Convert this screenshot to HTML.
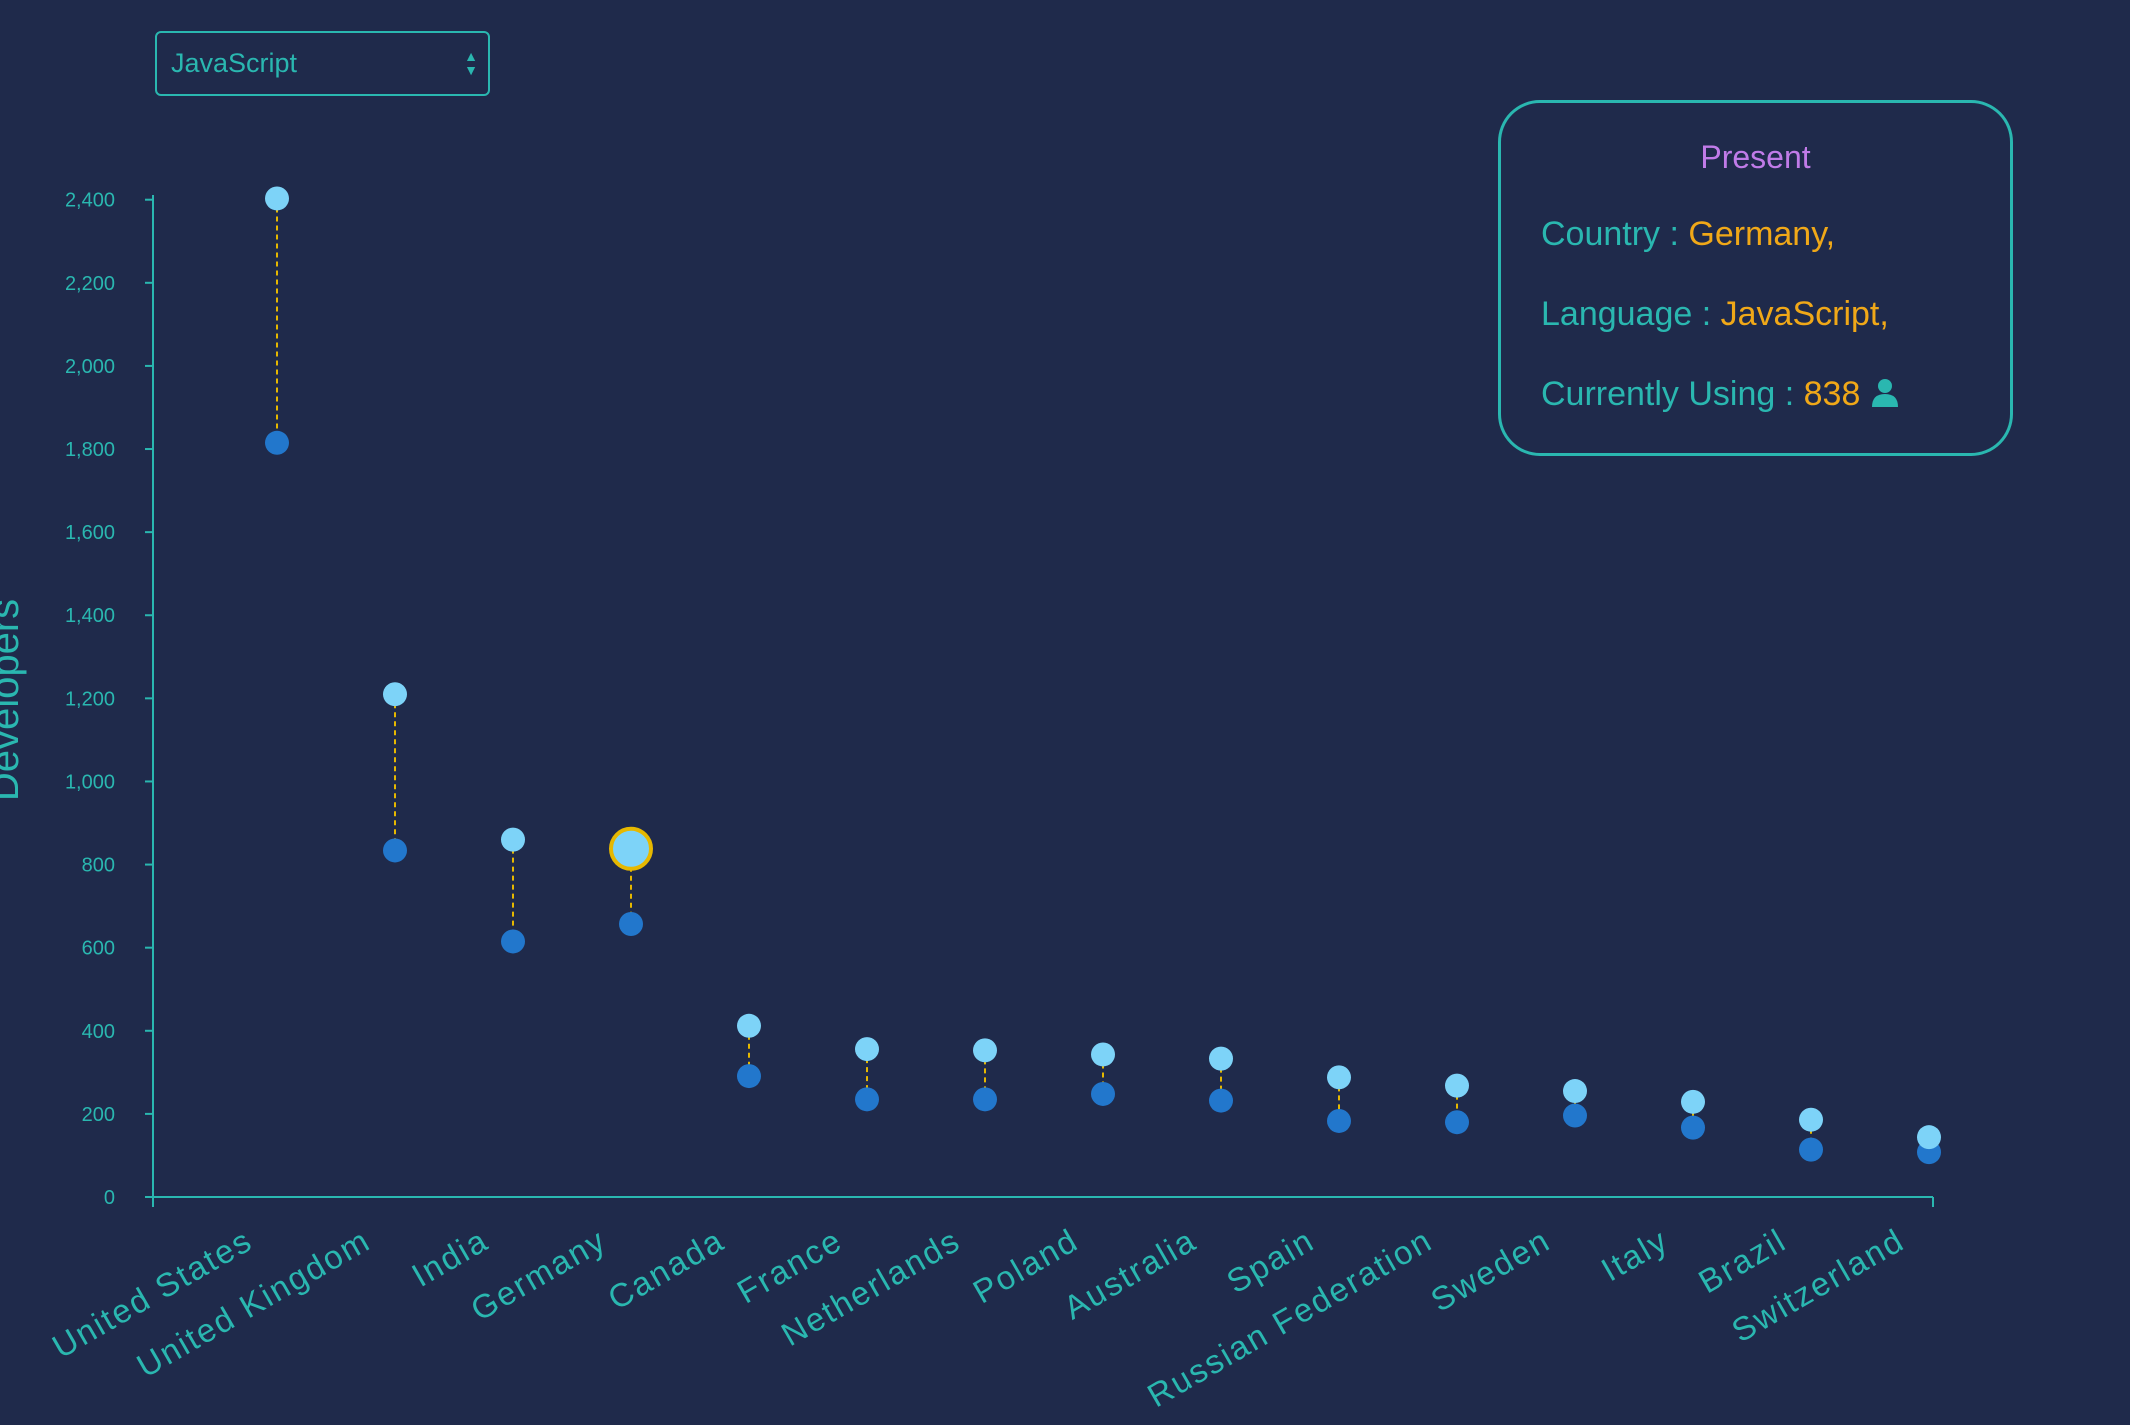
<!DOCTYPE html>
<html><head><meta charset="utf-8">
<style>
html,body{margin:0;padding:0;background:#1f2a4b;width:2130px;height:1425px;overflow:hidden;font-family:"Liberation Sans",sans-serif;}
#dd{position:absolute;left:155px;top:31px;width:335px;height:65px;border:2px solid #2ab7b0;border-radius:6px;box-sizing:border-box;color:#2ab7b0;font-size:27px;line-height:61px;padding-left:14px;}
#dd .arr{position:absolute;right:10px;top:16px;font-size:14px;line-height:14px;}
#tip{position:absolute;left:1498px;top:100px;width:515px;height:356px;border:3px solid #2ab7b0;border-radius:42px;box-sizing:border-box;color:#2ab7b0;font-size:34px;}
#tip .t{position:absolute;left:0;right:0;top:36px;text-align:center;color:#c07be8;font-size:32px;}
#tip .r{position:absolute;left:40px;}
.o{color:#f0a818;}
</style></head><body>
<div id="dd">JavaScript<span class="arr">▲<br>▼</span></div>
<svg id="chart" width="2130" height="1425" style="position:absolute;left:0;top:0"></svg>
<div id="tip">
<div class="t">Present</div>
<div class="r" style="top:112px">Country : <span class="o">Germany,</span></div>
<div class="r" style="top:192px">Language : <span class="o">JavaScript,</span></div>
<div class="r" style="top:272px">Currently Using : <span class="o">838</span> <svg width="30" height="30" viewBox="0 0 30 30" style="vertical-align:-2px"><circle cx="15" cy="9" r="7" fill="#2ab7b0"/><path d="M2 30 Q2 17 15 17 Q28 17 28 30Z" fill="#2ab7b0"/></svg></div>
</div>
<script>
const categories=["United States","United Kingdom","India","Germany","Canada","France","Netherlands","Poland","Australia","Spain","Russian Federation","Sweden","Italy","Brazil","Switzerland"];
const presentValues=[2403,1210,860,838,412,356,353,343,333,288,268,255,229,186,144];
const pastValues=[1815,834,615,657,291,235,235,248,232,183,180,196,167,114,108];
const yTicks=[0,200,400,600,800,1000,1200,1400,1600,1800,2000,2200,2400];
const highlight="Germany";
const NS="http://www.w3.org/2000/svg";
const svg=document.getElementById('chart');
const X0=153,X1=1933,Y0=1197,Ytop=199.7,Ymax=2400;
const y=v=>Y0-(v/Ymax)*(Y0-Ytop);
const x=i=>277+i*(1929-277)/(categories.length-1);
function mk(t,a){const e=document.createElementNS(NS,t);for(const k in a)e.setAttribute(k,a[k]);svg.appendChild(e);return e;}
let e=mk('line',{x1:X0,y1:Y0,x2:X1,y2:Y0,stroke:'#2ab7b0','stroke-width':2});


e=mk('line',{x1:X1,y1:Y0,x2:X1,y2:Y0+10,stroke:'#2ab7b0','stroke-width':2});
e=mk('line',{x1:X0,y1:195,x2:X0,y2:Y0+10,stroke:'#2ab7b0','stroke-width':2});


yTicks.forEach(t=>{
  mk('line',{x1:X0-8,y1:y(t),x2:X0,y2:y(t),stroke:'#2ab7b0','stroke-width':2});
  const tx=mk('text',{x:X0-38,y:y(t)+7,fill:'#2ab7b0','font-size':20,'text-anchor':'end'});
  tx.textContent=t>=1000?(t/1000).toFixed(3).replace('.',','):t;
  
  
});
e=mk('text',{x:0,y:0,fill:'#2ab7b0','font-size':40,'text-anchor':'middle',transform:'translate(18,700) rotate(-90)'});
e.textContent='Developers';


categories.forEach((c,i)=>{
  const cx=x(i);
  const l=mk('line',{x1:cx,y1:y(presentValues[i]),x2:cx,y2:y(pastValues[i]),stroke:'#e6b800','stroke-width':2,'stroke-dasharray':'5,4'});
  
  
  const p=mk('circle',{cx:cx,cy:y(pastValues[i]),r:12,fill:'#2277cc'});
  
  
  const hl=c===highlight;
  const q=mk('circle',{cx:cx,cy:y(presentValues[i]),r:hl?20:12,fill:'#7dd3f8',stroke:hl?'#e6b800':'none','stroke-width':4});
  
  
  const t=mk('text',{x:0,y:0,fill:'#2ab7b0','font-size':33,'letter-spacing':2,'text-anchor':'end',transform:`translate(${cx-22},${Y0+50}) rotate(-30)`});
  t.textContent=c;
  
  
});
</script>
</body></html>
